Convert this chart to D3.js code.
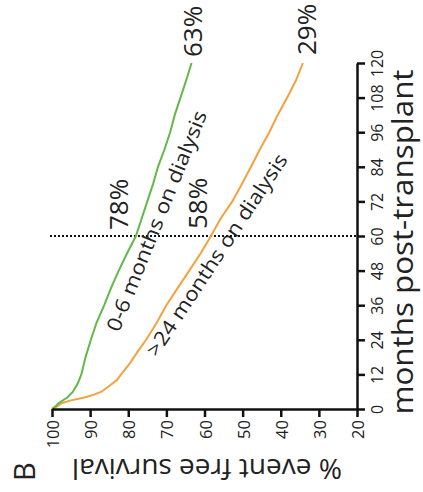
<!DOCTYPE html>
<html><head><meta charset="utf-8">
<script src="https://cdn.jsdelivr.net/npm/d3@7"></script>
<style>
html,body{margin:0;padding:0;background:#fff;}
svg{display:block;font-family:"Open Sans","Noto Sans",sans-serif;}
</style></head>
<body>
<svg id="chart" width="423" height="492"></svg>
<script>
// Data (months post-transplant vs % event free survival)
const greenMonths = [0,1,2,4,6,9,12,18,24,30,36,42,48,54,60,66,72,78,84,90,96,102,108,114,120];
const greenSurv   = [100,99,98.3,96,94.5,93.2,92.3,91.2,89.8,88.3,86.3,84.5,82.5,80.3,78,76.5,75,73.5,72.2,70.5,69,67.8,66.3,64.8,63.4];
const orangeMonths = [0,1,2,3,4,5,6,8,10,13,16,20,24,30,36,42,48,54,60,66,72,78,84,90,96,102,108,114,120];
const orangeSurv   = [100,98.5,97.5,95,91.5,89,87,85,83,81.3,79.5,77.5,75.3,72.5,70,67,64,61,58.3,55.8,52.7,50.2,47.8,45.5,43,40.8,38.3,36,34.2];
const survTicks = [100,90,80,70,60,50,40,30,20];
const monthTicks = [0,12,24,36,48,60,72,84,96,108,120];
const refMonth = 60;
const seriesLabels = ["0-6 months on dialysis", ">24 months on dialysis"];
const endLabels = ["63%", "29%"];
const refLabels = ["78%", "58%"];

const svg = d3.select("#chart");
const x = d3.scaleLinear().domain([100,20]).range([52,357]);   // survival -> horizontal
const y = d3.scaleLinear().domain([0,120]).range([409,63]);    // months -> vertical

// reference dotted line
svg.append("line")
  .attr("x1", 50).attr("x2", x(20))
  .attr("y1", y(refMonth)).attr("y2", y(refMonth))
  .attr("stroke", "#111").attr("stroke-width", 2).attr("stroke-dasharray", "2,2");

const line = d3.line().x(d => x(d[1])).y(d => y(d[0]));
svg.append("path").datum(orangeMonths.map((m,i)=>[m,orangeSurv[i]]))
  .attr("d", line).attr("fill","none").attr("stroke","#f3a23e").attr("stroke-width",2);
svg.append("path").datum(greenMonths.map((m,i)=>[m,greenSurv[i]]))
  .attr("d", line).attr("fill","none").attr("stroke","#62b849").attr("stroke-width",2);

// survival axis (bottom)
const ax = svg.append("g").attr("transform", `translate(0,${y(0)})`)
  .call(d3.axisBottom(x).tickValues(survTicks).tickSize(8).tickSizeOuter(0).tickFormat(d=>d));
ax.select(".domain").attr("stroke","#111").attr("stroke-width",2.5);
ax.selectAll(".tick line").attr("stroke","#111").attr("stroke-width",2.5);
ax.selectAll(".tick text")
  .attr("font-size", 16.5).attr("font-family","Open Sans").attr("fill","#222")
  .attr("text-anchor","end").attr("dy", null).attr("y", null)
  .attr("transform","translate(0,11) rotate(-90)")
  .attr("dominant-baseline","central");

// months axis (right)
const ay = svg.append("g").attr("transform", `translate(${x(20)},0)`)
  .call(d3.axisRight(y).tickValues(monthTicks).tickSize(8).tickSizeOuter(0));
ay.select(".domain").attr("stroke","#111").attr("stroke-width",2.5);
ay.selectAll(".tick line").attr("stroke","#111").attr("stroke-width",2.5);
ay.selectAll(".tick text")
  .attr("font-size", 16).attr("font-family","Open Sans").attr("fill","#222")
  .attr("text-anchor","middle").attr("x", null).attr("dy", null)
  .attr("transform","translate(26,0) rotate(-90)");

function rtext(txt, tx, ty, ang, size, opts={}) {
  const t = svg.append("text")
    .attr("transform", `translate(${tx},${ty}) rotate(${ang})`)
    .attr("font-size", size).attr("fill","#222")
    .attr("text-anchor", opts.anchor || "start")
    .text(txt);
  if (opts.len) t.attr("textLength", opts.len).attr("lengthAdjust","spacingAndGlyphs");
  return t;
}

// axis titles
rtext("months post-transplant", 413, 242, -90, 29, {anchor:"middle", len:345});
rtext("% event free survival", 207, 459, 180, 28, {anchor:"middle", len:270});
rtext("B", 35, 481, -90, 29);

// percent labels
rtext(endLabels[0], 202, 57, -90, 26);
rtext(endLabels[1], 316, 55, -90, 26);
rtext(refLabels[0], 128, 230, -90, 26);
rtext(refLabels[1], 207, 229, -90, 26);

// series labels
rtext(seriesLabels[0], 119, 333, -68, 20, {len:236});
rtext(seriesLabels[1], 157, 358, -56.5, 20, {len:238});
</script>
</body></html>
